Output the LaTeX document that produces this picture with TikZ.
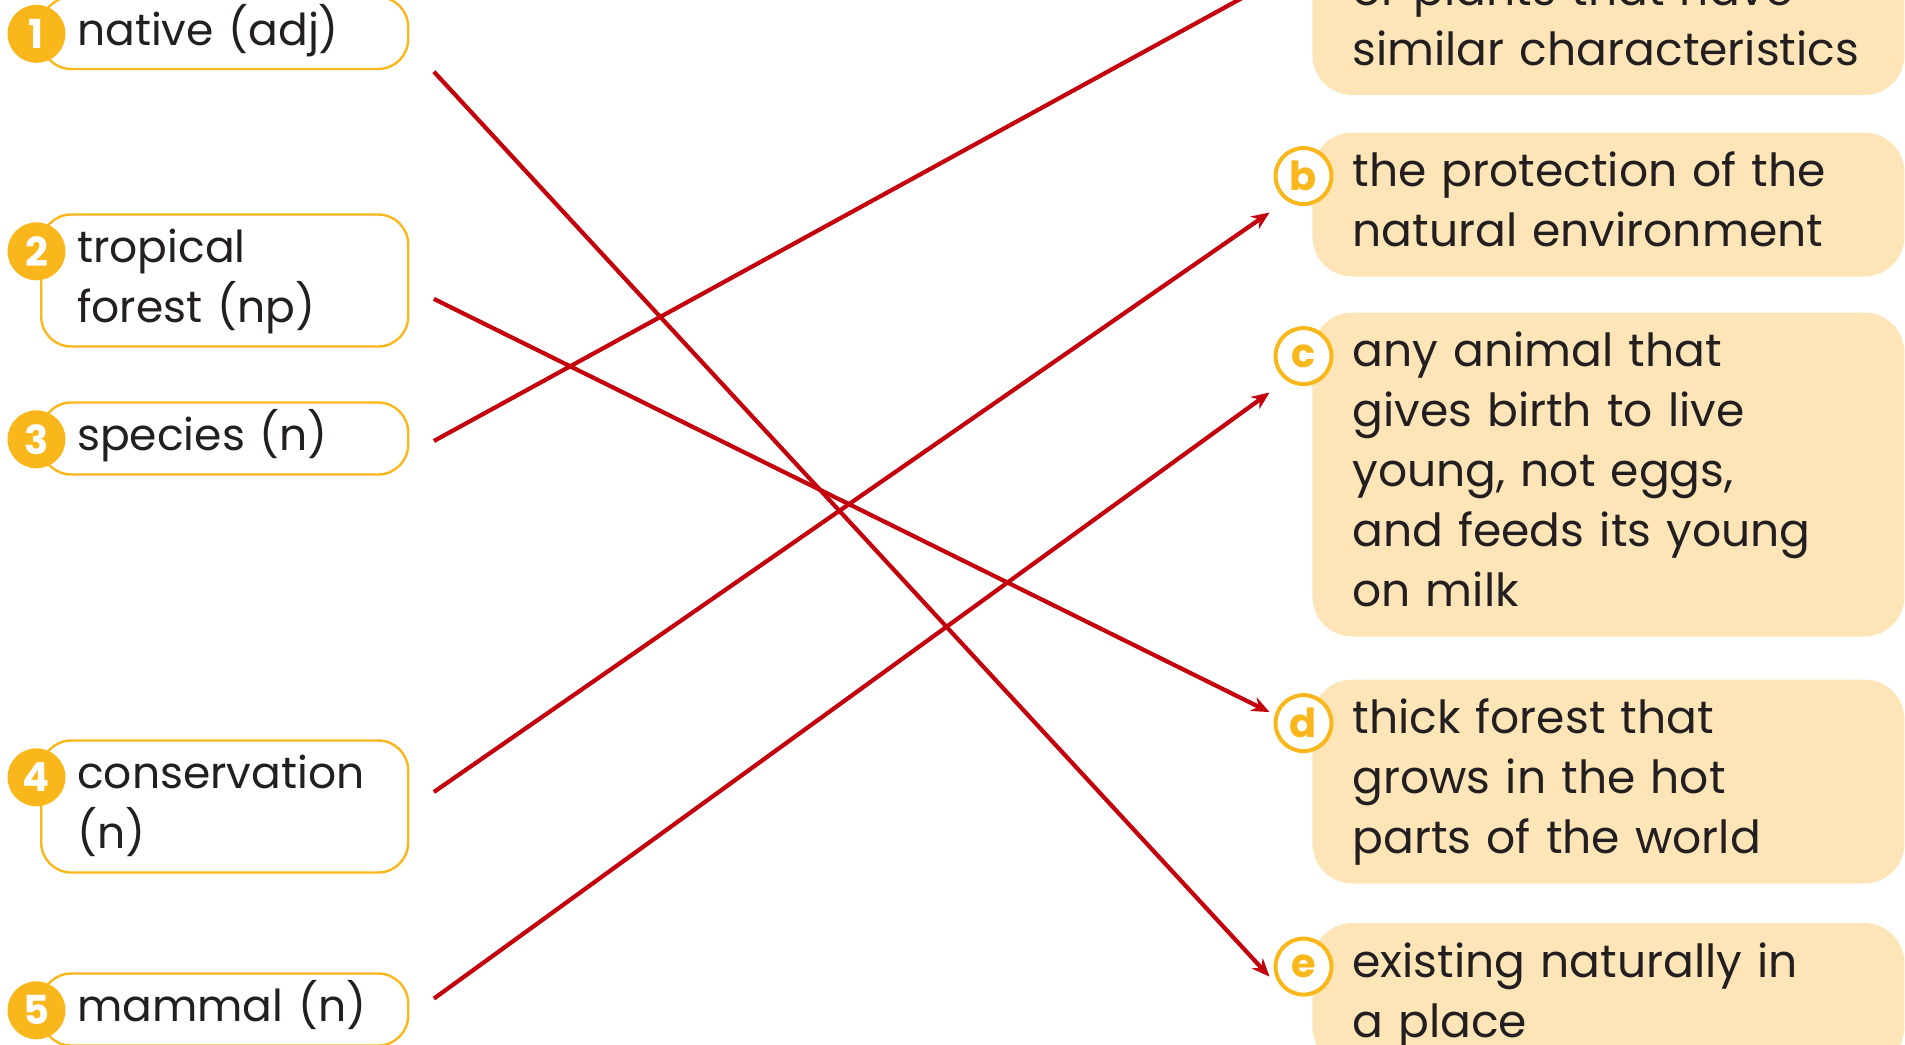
\documentclass[tikz,border=0pt]{standalone}
\usepackage{fontspec}
\setmainfont{Poppins}
\usetikzlibrary{positioning, arrows.meta, calc}

\definecolor{ringgold}{RGB}{250,183,27}
\definecolor{peach}{RGB}{253,229,184}
\definecolor{inkdark}{RGB}{35,31,32}
\definecolor{linkred}{RGB}{196,0,12}
\hyphenpenalty=10000

\begin{document}
\begin{tikzpicture}[
  x=0.5pt, y=-0.5pt,
  font=\fontsize{22.8}{30}\selectfont,
  wordbox/.style={draw=ringgold, line width=1.2pt, fill=white, rounded corners=15pt,
    anchor=west, align=left, text width=147.5pt, inner xsep=18pt, inner ysep=3pt,
    font=\fontsize{22}{30}\selectfont,
    text=inkdark, execute at begin node=\strut, execute at end node=\strut},
  defbox/.style={fill=peach, rounded corners=20pt,
    anchor=west, align=left, text width=256pt, inner xsep=20pt, inner ysep=6pt,
    text=inkdark, execute at begin node=\strut, execute at end node=\strut},
  numdot/.style={circle, fill=ringgold, text=white, minimum size=29pt, inner sep=0pt,
    font=\fontsize{20}{20}\selectfont\bfseries},
  letdot/.style={circle, draw=ringgold, line width=2pt, fill=white, text=ringgold,
    minimum size=28pt, inner sep=0pt, font=\fontsize{20}{20}\selectfont\bfseries},
  link/.style={-{Stealth[length=9pt, width=7.5pt]}, draw=linkred, line width=2.1pt}
]
\useasboundingbox (0,0) rectangle (1905,1044);

% words on the left
\node[wordbox] (w1) at (40,33)     {native (adj)};
\node[wordbox] (w2) at (40,280.5)  {tropical\\forest (np)};
\node[wordbox] (w3) at (40,438.5)  {species (n)};
\node[wordbox] (w4) at (40,806.5)  {conservation\\(n)};
\node[wordbox] (w5) at (40,1009.5) {mammal (n)};
\foreach \i in {1,...,5}
  \node[numdot] (n\i) at ($(w\i.north west)+(-3.5,38)$) {\i};

% meanings on the right
\node[defbox] (da) at (1312,23)    {or plants that have\\similar characteristics};
\node[defbox] (db) at (1312,204.5) {the protection of the\\natural environment};
\node[defbox] (dc) at (1312,474.5) {any animal that\\gives birth to live\\young, not eggs,\\and feeds its young\\on milk};
\node[defbox] (dd) at (1312,781.5) {thick forest that\\grows in the hot\\parts of the world};
\node[defbox] (de) at (1312,995)   {existing naturally in\\a place};
\foreach \k in {b,c,d,e}
  \node[letdot] (l\k) at ($(d\k.north west)+(-8.5,44)$) {\k};

% the matches
\draw[link] ($(w1.east)+(24.5,38.7)$)  -- ($(le)+(-34,10)$);
\draw[link] ($(w2.east)+(24.5,18.4)$)  -- ($(ld)+(-34,-11)$);
\draw[link] ($(w3.east)+(24.5,2.5)$)   -- ($(da.north west)+(-42.4,32.3)$);
\draw[link] ($(w4.east)+(24.5,-14.5)$) -- ($(lb)+(-34,36.4)$);
\draw[link] ($(w5.east)+(24.5,-10.9)$) -- ($(lc)+(-34,36.4)$);

\end{tikzpicture}
\end{document}
